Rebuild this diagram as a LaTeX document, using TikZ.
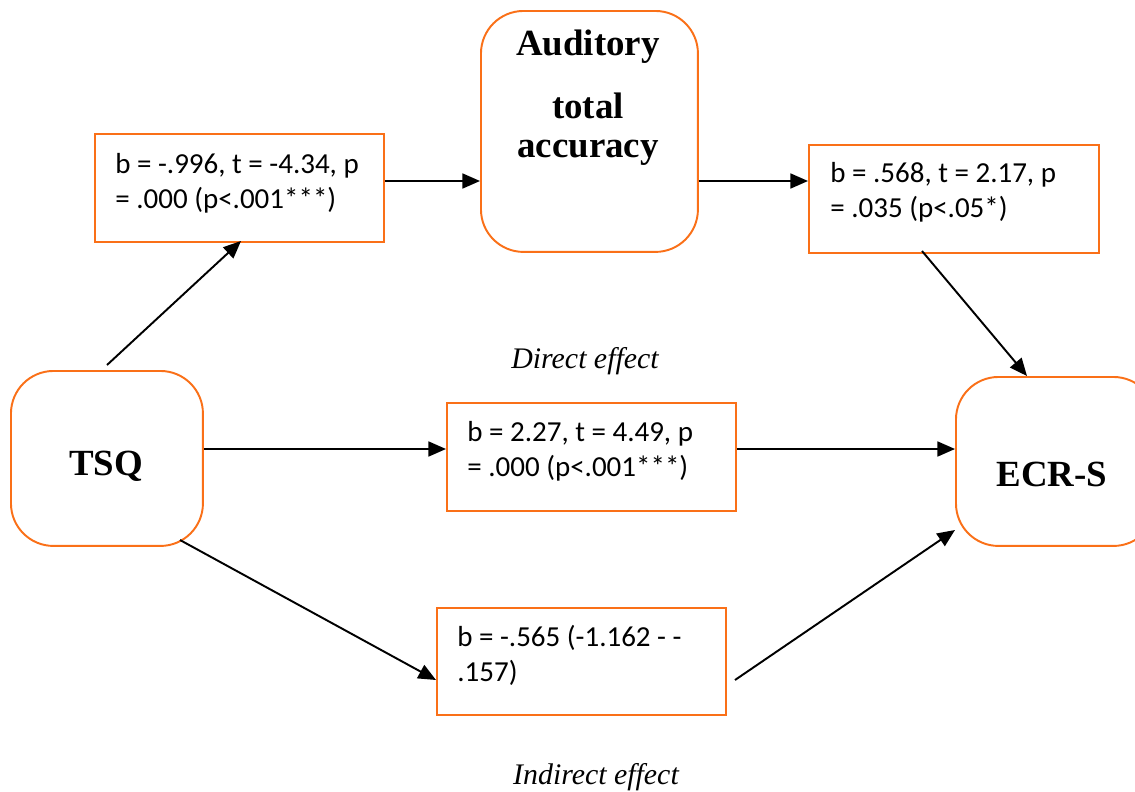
\documentclass[tikz,border=0pt]{standalone}
\usepackage{fontspec}
\setmainfont{Liberation Serif}
\newfontfamily\calibrifont{Carlito}
\usetikzlibrary{arrows.meta}
\definecolor{boxorange}{RGB}{250,112,24}
\tikzset{
  statbox/.style={draw=boxorange, line width=1.1pt, rectangle, anchor=north west,
    minimum width=5.78cm, minimum height=2.16cm},
  stattext/.style={anchor=west, align=left, inner sep=0pt,
    font=\calibrifont\fontsize{16.5}{20}\selectfont},
  varbox/.style={draw=boxorange, line width=1.1pt, rectangle, anchor=north west,
    rounded corners=0.85cm},
  vartext/.style={font=\bfseries\fontsize{21}{23}\selectfont, align=center},
  link/.style={line width=1.1pt, -{Triangle[length=10pt,width=8.5pt]}},
  effect/.style={font=\itshape\fontsize{17}{19}\selectfont}
}
\begin{document}
\begin{tikzpicture}[x=0.02cm,y=-0.02cm]
\clip (0,0) rectangle (1135,791);
\fill[white] (0,0) rectangle (1135,791);
% variable boxes
\node[varbox, minimum width=4.34cm, minimum height=4.82cm] (aud) at (480,10) {};
\node[vartext] (audt1) at (588,47) {Auditory};
\node[vartext] (audt2) at (588,129) {total\\[-1pt]accuracy};
\node[varbox, minimum width=3.84cm, minimum height=3.5cm] (tsq) at (10,370) {};
\node[vartext] (tsqt) at (106,466) {TSQ};
\node[varbox, minimum width=4cm, minimum height=3.38cm] (ecr) at (955,376) {};
\node[vartext] (ecrt) at (1052,474) {ECR-S};
% stat boxes
\node[statbox] (s1) at (94,133) {};
\node[stattext] (s1t) at (115,183) {b = -.996, t = -4.34, p\\= .000 (p<.001***)};
\node[statbox, minimum width=5.8cm] (s2) at (808,144) {};
\node[stattext] (s2t) at (830,192) {b = .568, t = 2.17, p\\= .035 (p<.05*)};
\node[statbox] (s3) at (446,402) {};
\node[stattext] (s3t) at (467,451) {b = 2.27, t = 4.49, p\\= .000 (p<.001***)};
\node[statbox, minimum height=2.14cm] (s4) at (436,607) {};
\node[stattext] (s4t) at (457,655) {b = -.565 (-1.162 - -\\.157)};
% labels
\node[effect] (de) at (585,361) {Direct effect};
\node[effect] (ie) at (596,777) {Indirect effect};
% connectors
\coordinate (tsqTop) at (107,365);
\coordinate (s1Bot) at (241,241);
\draw[link] (tsqTop) -- (s1Bot);
\draw[link] (s1.east |- 0,181) -- (aud.west |- 0,181);
\draw[link] (aud.east |- 0,181) -- (s2.west |- 0,181);
\coordinate (s2Bot) at (922,251);
\coordinate (ecrTop) at (1027,376);
\draw[link] (s2Bot) -- (ecrTop);
\draw[link] (tsq.east |- 0,449) -- (s3.west |- 0,449);
\draw[link] (s3.east |- 0,449) -- (ecr.west |- 0,449);
\coordinate (tsqBot) at (180,540);
\coordinate (s4Left) at (436,680);
\draw[link] (tsqBot) -- (s4Left);
\coordinate (s4Right) at (735,680);
\coordinate (ecrLow) at (955,530);
\draw[link] (s4Right) -- (ecrLow);
\end{tikzpicture}
\end{document}
